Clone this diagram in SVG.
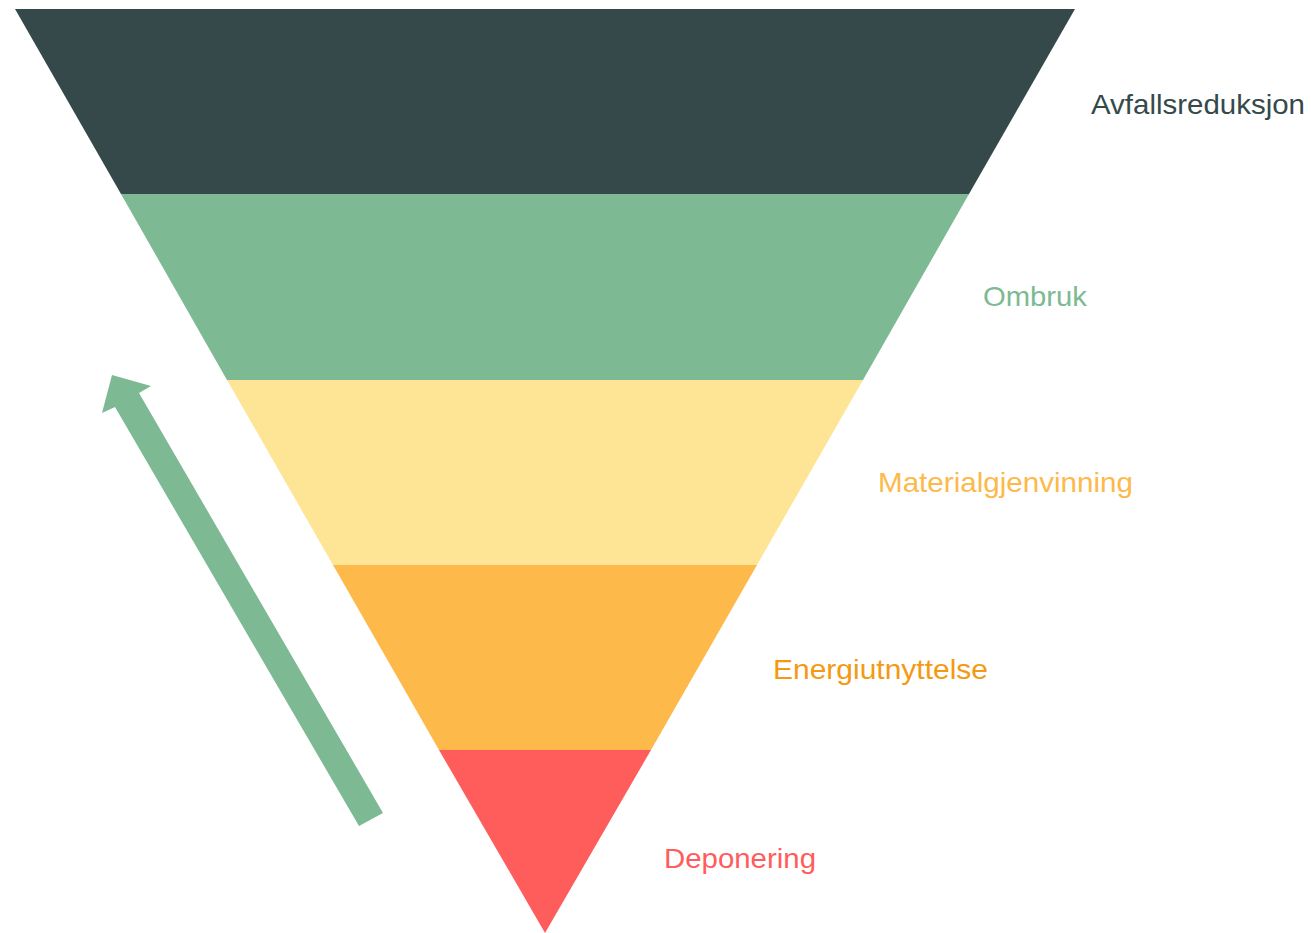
<svg xmlns="http://www.w3.org/2000/svg" width="1313" height="933" viewBox="0 0 1313 933">
<style>
.lbl{font-family:"Liberation Sans",Arial,sans-serif;font-size:28px}
</style>
<rect width="1313" height="933" fill="#ffffff"/>
<g id="level-avfallsreduksjon">
<polygon points="15,9 1075,9 969,194 121,194" fill="#35494b"/>
<text class="lbl" x="1091" y="114" fill="#35494b" textLength="214" lengthAdjust="spacingAndGlyphs">Avfallsreduksjon</text>
</g>
<g id="level-ombruk">
<polygon points="121,194 969,194 863,380 227,380" fill="#7dba94"/>
<text class="lbl" x="983" y="306" fill="#7dba94" textLength="104" lengthAdjust="spacingAndGlyphs">Ombruk</text>
</g>
<g id="level-materialgjenvinning">
<polygon points="227,380 863,380 757,565 333,565" fill="#fee596"/>
<text class="lbl" x="878" y="492" fill="#fdb94a" textLength="255" lengthAdjust="spacingAndGlyphs">Materialgjenvinning</text>
</g>
<g id="level-energiutnyttelse">
<polygon points="333,565 757,565 651,750 439,750" fill="#fdb94a"/>
<text class="lbl" x="773" y="679" fill="#f39a12" textLength="215" lengthAdjust="spacingAndGlyphs">Energiutnyttelse</text>
</g>
<g id="level-deponering">
<polygon points="439,750 651,750 545,933" fill="#ff5c5c"/>
<text class="lbl" x="664" y="868" fill="#ff5c5c" textLength="152" lengthAdjust="spacingAndGlyphs">Deponering</text>
</g>
<g id="connectors">
<polygon points="112,375 151,386 139,393 383,813 359,826 115,407 102,413" fill="#7dba94"/>
</g>
</svg>
